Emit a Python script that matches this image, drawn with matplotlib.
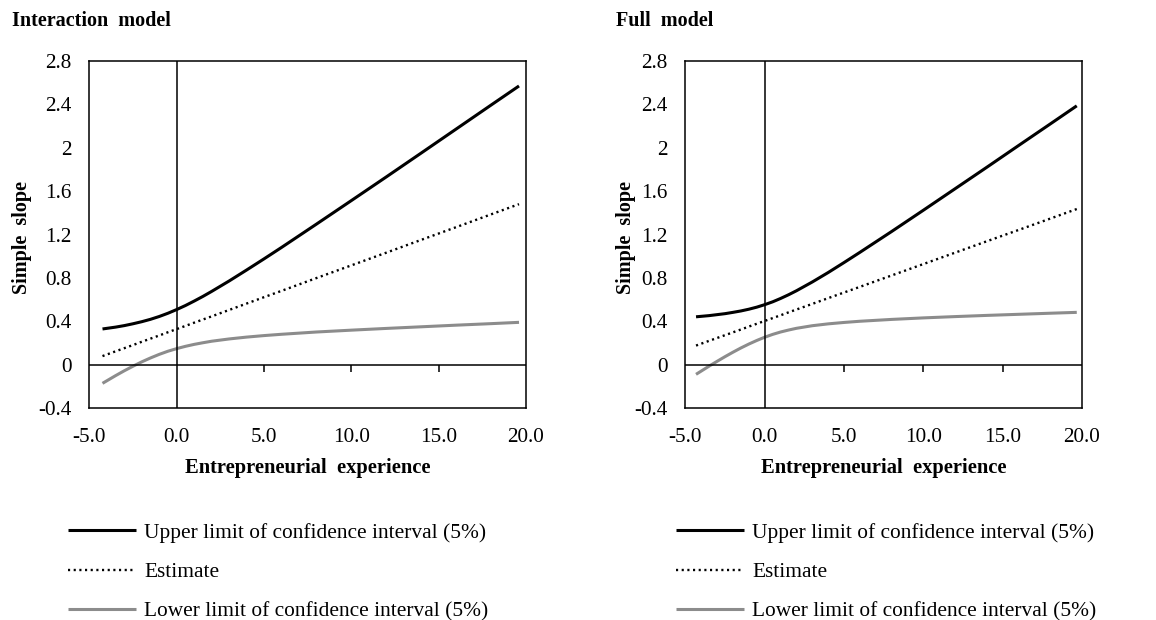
import matplotlib
matplotlib.use("Agg")
import matplotlib.pyplot as plt
import numpy as np

plt.rcParams['font.family'] = ['Liberation Serif', 'DejaVu Serif']

# values
x_int = [-4.25, -3.5, -3, -2.5, -2, -1.5, -1, -0.5, 0, 0.5, 1, 1.5, 2, 3, 4, 5, 6, 8, 10, 12, 14, 16, 18, 19.6]
upper_int = [0.331, 0.348, 0.362, 0.379, 0.398, 0.420, 0.446, 0.476, 0.510, 0.547, 0.588, 0.631,
             0.677, 0.773, 0.874, 0.977, 1.082, 1.297, 1.514, 1.732, 1.952, 2.173, 2.394, 2.570]
est_int = [0.081, 0.125, 0.154, 0.183, 0.213, 0.242, 0.271, 0.301, 0.330, 0.359, 0.389, 0.418,
           0.447, 0.506, 0.565, 0.624, 0.682, 0.800, 0.917, 1.034, 1.152, 1.269, 1.387, 1.481]
lower_int = [-0.170, -0.099, -0.054, -0.012, 0.028, 0.064, 0.097, 0.126, 0.150, 0.171, 0.189, 0.204,
             0.218, 0.239, 0.256, 0.270, 0.282, 0.303, 0.320, 0.336, 0.351, 0.366, 0.380, 0.392]

x_full = [-4.33, -3.5, -3, -2.5, -2, -1.5, -1, -0.5, 0, 0.5, 1, 1.5, 2, 3, 4, 5, 6, 8, 10, 12, 14, 16, 18, 19.67]
upper_full = [0.443, 0.454, 0.463, 0.472, 0.484, 0.497, 0.513, 0.532, 0.555, 0.581, 0.612, 0.646,
              0.683, 0.764, 0.851, 0.943, 1.037, 1.229, 1.425, 1.623, 1.821, 2.021, 2.220, 2.387]
est_full = [0.178, 0.222, 0.248, 0.274, 0.300, 0.326, 0.353, 0.379, 0.405, 0.431, 0.457, 0.484,
            0.510, 0.562, 0.615, 0.667, 0.719, 0.824, 0.929, 1.034, 1.139, 1.243, 1.348, 1.436]
lower_full = [-0.087, -0.011, 0.033, 0.076, 0.117, 0.156, 0.192, 0.225, 0.255, 0.281, 0.303, 0.321,
              0.337, 0.361, 0.378, 0.391, 0.402, 0.419, 0.433, 0.445, 0.456, 0.466, 0.476, 0.484]

x_ticks = [-5, 0, 5, 10, 15, 20]
y_ticks = [-0.4, 0, 0.4, 0.8, 1.2, 1.6, 2, 2.4, 2.8]
y_labels = ['-0.4', '0', '0.4', '0.8', '1.2', '1.6', '2', '2.4', '2.8']
series_labels = ['Upper limit of confidence interval (5%)', 'Estimate',
                 'Lower limit of confidence interval (5%)']

W, H = 1156, 620
fig = plt.figure(figsize=(W / 100, H / 100), dpi=100)


def px_axes(left, top, right, bottom):
    return fig.add_axes([left / W, 1 - bottom / H, (right - left) / W, (bottom - top) / H])


def panel(ax, xs, up, est, lo, title, title_x, ylab_x, leg_x):
    l1, = ax.plot(xs, up, color='black', lw=2.2, solid_capstyle='butt')
    l2, = ax.plot(xs, est, color='black', lw=1.7, linestyle=(0, (0.9, 1.5)))
    l3, = ax.plot(xs, lo, color='#8c8c8c', lw=2.2, solid_capstyle='butt')
    ax.axhline(0, color='black', lw=1.1)
    ax.axvline(0, color='black', lw=1.1)
    ax.set_xlim(-5, 20)
    ax.set_ylim(-0.4, 2.8)
    ax.set_xticks(x_ticks)
    ax.set_xticklabels(['%.1f' % v for v in x_ticks])
    ax.set_yticks(y_ticks)
    ax.set_yticklabels(y_labels)
    ax.tick_params(axis='both', length=0, labelsize=15.2, colors='black')
    ax.tick_params(axis='x', pad=14)
    ax.tick_params(axis='y', pad=13)
    for s in ax.spines.values():
        s.set_linewidth(1.1)
    # tick marks on the zero line
    sec = ax.secondary_xaxis(0.125)
    sec.set_xticks([5, 10, 15])
    sec.tick_params(direction='out', length=5, width=1.1, labelbottom=False)
    sec.spines['bottom'].set_visible(False)

    ax.set_xlabel('Entrepreneurial  experience', fontsize=14.8, fontweight='bold')
    ax.xaxis.set_label_coords(0.5, -0.172)
    ax.xaxis.label.set_va('center')
    ax.set_ylabel('Simple  slope', fontsize=14.5, fontweight='bold')
    ax.yaxis.set_label_coords(ylab_x, 0.492)
    ax.yaxis.label.set_va('center')

    fig.text(title_x / W, 1 - 26 / H, title, fontsize=14.5, fontweight='bold', va='baseline')

    ax.legend([l1, l2, l3], series_labels, loc='upper left',
              bbox_to_anchor=(leg_x / W, 1 - 523 / H), bbox_transform=fig.transFigure,
              frameon=False, borderpad=0, borderaxespad=0, handlelength=3.2,
              handletextpad=0.37, labelspacing=0.9, fontsize=15.4)


ax1 = px_axes(89.4, 61, 526, 408.3)
panel(ax1, x_int, upper_int, est_int, lower_int, 'Interaction  model', 12, -0.155, 68)

ax2 = px_axes(685.4, 61, 1082, 408.3)
panel(ax2, x_full, upper_full, est_full, lower_full, 'Full  model', 615.7, -0.150, 676)

fig.savefig('out.png', dpi=100)
